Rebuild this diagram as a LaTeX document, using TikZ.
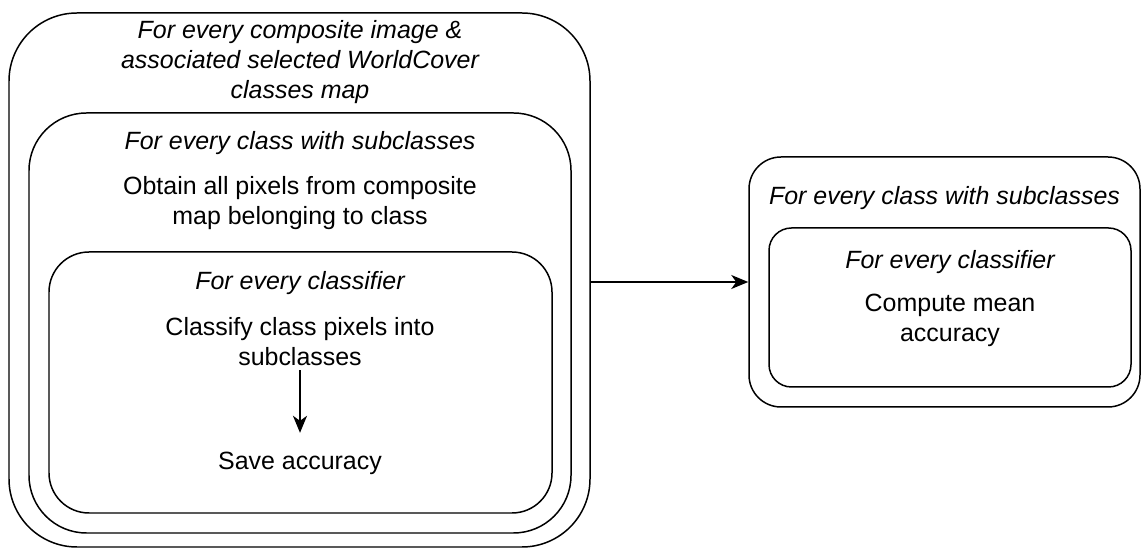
\documentclass[tikz,border=0pt]{standalone}
\usepackage{fontspec}
\setmainfont{Liberation Sans}
\usetikzlibrary{arrows.meta}

\begin{document}
\begin{tikzpicture}[
  frame/.style={draw, line width=0.85pt, rounded corners=#1},
  frame/.default=1cm,
  lbl/.style={align=center, inner sep=2pt, font=\fontsize{14.2}{17.1}\selectfont},
  ttl/.style={lbl, font=\fontsize{14.2}{17.1}\selectfont\itshape},
  flow/.style={-{Stealth[length=3.4mm, width=2.8mm, inset=1mm]}, line width=0.85pt}
]
\useasboundingbox (0,0) rectangle (22.86,11);

% left: nested loops
\node[frame=1.36cm, minimum width=11.62cm, minimum height=10.68cm] (imgloop) at (5.99,5.40) {};
\node[frame=1.15cm, minimum width=10.84cm, minimum height=8.40cm] (classloop) at (6.00,4.54) {};
\node[frame=0.8cm, minimum width=10.06cm, minimum height=5.22cm] (clfloop) at (6.01,3.35) {};

\node[ttl] (imgttl) at (6.0,9.75) {For every composite image \&\\associated selected WorldCover\\classes map};
\node[ttl] (classttl) at (6.0,8.14) {For every class with subclasses};
\node[lbl] (obtain) at (6.0,6.94) {Obtain all pixels from composite\\map belonging to class};
\node[ttl] (clfttl) at (6.0,5.34) {For every classifier};
\node[lbl] (classify) at (6.0,4.16) {Classify class pixels into\\subclasses};
\node[lbl] (save) at (6.0,1.74) {Save accuracy};

\draw[flow, line width=1.2pt, shorten >=3mm] (classify) -- (save);

% right: mean accuracy
\node[frame=0.64cm, minimum width=7.82cm, minimum height=5.0cm] (accloop) at (18.89,5.36) {};
\node[frame=0.45cm, minimum width=7.24cm, minimum height=3.18cm] (meanloop) at (19.00,4.85) {};

\node[ttl] (accttl) at (18.89,7.04) {For every class with subclasses};
\node[ttl] (meanttl) at (19.0,5.76) {For every classifier};
\node[lbl] (mean) at (19.0,4.60) {Compute mean\\accuracy};

\draw[flow] (imgloop.east |- accloop.west) -- (accloop.west);
\end{tikzpicture}
\end{document}
